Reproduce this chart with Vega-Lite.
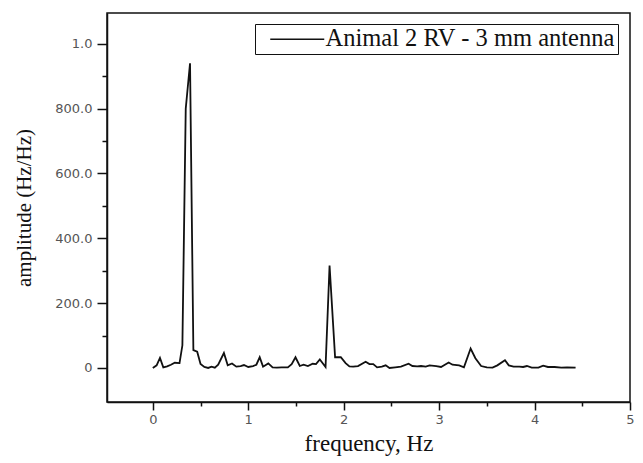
{
  "$schema": "https://vega.github.io/schema/vega-lite/v6.json",
  "autosize": "none",
  "padding": {"left": 107, "top": 13, "right": 13, "bottom": 61},
  "width": 523,
  "height": 389,
  "background": "white",
  "config": {
    "view": {"stroke": "#111", "strokeWidth": 1.5},
    "axis": {
      "grid": false,
      "domainColor": "#111",
      "domainWidth": 1.5,
      "tickColor": "#111",
      "tickWidth": 1.5,
      "labelFont": "DejaVu Sans",
      "labelFontSize": 13,
      "labelColor": "#555",
      "titleFont": "Liberation Serif",
      "titleFontWeight": "normal",
      "titleColor": "#111"
    }
  },
  "data": {
    "values": [
      {"f": 0, "a": 0}, {"f": 0.04, "a": 8}, {"f": 0.075, "a": 31}, {"f": 0.11, "a": 2},
      {"f": 0.15, "a": 5}, {"f": 0.19, "a": 10}, {"f": 0.23, "a": 16}, {"f": 0.28, "a": 15},
      {"f": 0.31, "a": 70}, {"f": 0.345, "a": 800}, {"f": 0.39, "a": 940}, {"f": 0.425, "a": 55},
      {"f": 0.465, "a": 50}, {"f": 0.5, "a": 12}, {"f": 0.54, "a": 3}, {"f": 0.58, "a": 0},
      {"f": 0.615, "a": 4}, {"f": 0.65, "a": 1}, {"f": 0.685, "a": 10}, {"f": 0.745, "a": 46},
      {"f": 0.785, "a": 8}, {"f": 0.83, "a": 14}, {"f": 0.875, "a": 4}, {"f": 0.92, "a": 6},
      {"f": 0.955, "a": 9}, {"f": 1.0, "a": 3}, {"f": 1.05, "a": 6}, {"f": 1.085, "a": 10},
      {"f": 1.12, "a": 33}, {"f": 1.155, "a": 4}, {"f": 1.21, "a": 14}, {"f": 1.255, "a": 2},
      {"f": 1.3, "a": 1}, {"f": 1.35, "a": 2}, {"f": 1.415, "a": 2}, {"f": 1.455, "a": 12},
      {"f": 1.495, "a": 33}, {"f": 1.54, "a": 6}, {"f": 1.58, "a": 10}, {"f": 1.625, "a": 6},
      {"f": 1.675, "a": 13}, {"f": 1.71, "a": 12}, {"f": 1.75, "a": 26}, {"f": 1.81, "a": 3},
      {"f": 1.852, "a": 316}, {"f": 1.91, "a": 33}, {"f": 1.97, "a": 33}, {"f": 2.02, "a": 15},
      {"f": 2.06, "a": 5}, {"f": 2.1, "a": 4}, {"f": 2.15, "a": 6}, {"f": 2.23, "a": 19},
      {"f": 2.27, "a": 12}, {"f": 2.31, "a": 12}, {"f": 2.35, "a": 2}, {"f": 2.4, "a": 4},
      {"f": 2.44, "a": 8}, {"f": 2.48, "a": 0}, {"f": 2.54, "a": 2}, {"f": 2.6, "a": 4},
      {"f": 2.68, "a": 13}, {"f": 2.72, "a": 6}, {"f": 2.77, "a": 5}, {"f": 2.81, "a": 6},
      {"f": 2.86, "a": 4}, {"f": 2.9, "a": 8}, {"f": 2.97, "a": 6}, {"f": 3.02, "a": 3},
      {"f": 3.1, "a": 17}, {"f": 3.14, "a": 10}, {"f": 3.21, "a": 8}, {"f": 3.26, "a": 2},
      {"f": 3.33, "a": 60}, {"f": 3.38, "a": 30}, {"f": 3.44, "a": 6}, {"f": 3.5, "a": 2},
      {"f": 3.56, "a": 1}, {"f": 3.61, "a": 8}, {"f": 3.69, "a": 24}, {"f": 3.73, "a": 8},
      {"f": 3.78, "a": 4}, {"f": 3.84, "a": 4}, {"f": 3.88, "a": 3}, {"f": 3.92, "a": 6},
      {"f": 3.97, "a": 1}, {"f": 4.04, "a": 1}, {"f": 4.09, "a": 7}, {"f": 4.14, "a": 3},
      {"f": 4.21, "a": 3}, {"f": 4.28, "a": 1}, {"f": 4.34, "a": 2}, {"f": 4.43, "a": 1}
    ]
  },
  "mark": {"type": "line", "strokeWidth": 1.8, "interpolate": "linear", "color": "#111"},
  "encoding": {
    "x": {
      "field": "f",
      "type": "quantitative",
      "scale": {"domain": [-0.48, 5], "nice": false, "zero": false},
      "axis": {
        "title": "frequency, Hz",
        "titleFontSize": 23,
        "titlePadding": 6,
        "values": [0, 0.5, 1, 1.5, 2, 2.5, 3, 3.5, 4, 4.5, 5],
        "labelExpr": "datum.value % 1 === 0 ? format(datum.value, 'd') : ''",
        "labelFlush": false,
        "labelOverlap": false,
        "labelPadding": 3,
        "tickSize": {"condition": {"test": "datum.value % 1 === 0", "value": 8}, "value": 4}
      }
    },
    "y": {
      "field": "a",
      "type": "quantitative",
      "scale": {"domain": [-105, 1095], "nice": false, "zero": false},
      "axis": {
        "title": "amplitude (Hz/Hz)",
        "titleFontSize": 21,
        "titlePadding": 20,
        "values": [0, 100, 200, 300, 400, 500, 600, 700, 800, 900, 1000],
        "labelExpr": "datum.value === 1000 ? '1.0' : datum.value === 0 ? '0' : datum.value % 200 === 0 ? format(datum.value, '.1f') : ''",
        "labelOverlap": false,
        "labelPadding": 5,
        "tickSize": {"condition": {"test": "datum.value % 200 === 0", "value": 10}, "value": 5}
      }
    },
    "stroke": {
      "datum": "Animal 2 RV - 3 mm antenna",
      "type": "nominal",
      "scale": {"range": ["#111"]},
      "legend": {
        "title": null,
        "orient": "none",
        "legendX": 148,
        "legendY": 11,
        "padding": 3,
        "strokeColor": "#111",
        "fillColor": "white",
        "symbolType": "M0,0H10.8",
        "symbolSize": 100,
        "symbolStrokeWidth": 1.6,
        "symbolStrokeColor": "#111",
        "labelFont": "Liberation Serif",
        "labelFontSize": 24.5,
        "labelColor": "#111",
        "labelOffset": 43,
        "labelLimit": 400
      }
    }
  }
}
